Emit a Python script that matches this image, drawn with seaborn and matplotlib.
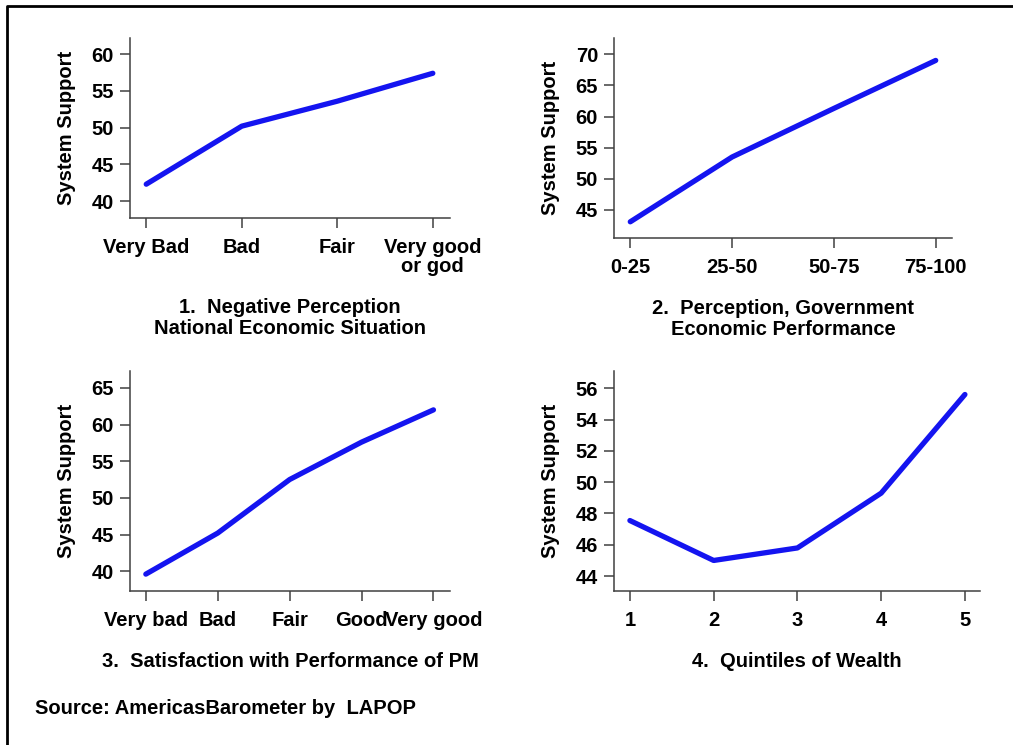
import numpy as np
import pandas as pd
import matplotlib
matplotlib.use("Agg")
import matplotlib.pyplot as plt
from matplotlib.lines import Line2D
import seaborn as sns

# data
econ_labels = ["Very Bad", "Bad", "Fair", "Very good\nor god"]
econ_support = [42.3, 50.2, 53.6, 57.4]

gov_labels = ["0-25", "25-50", "50-75", "75-100"]
gov_support = [43.1, 53.5, 61.3, 69.0]

pm_labels = ["Very bad", "Bad", "Fair", "Good", "Very good"]
pm_support = [39.6, 45.2, 52.5, 57.6, 62.0]

wealth_quintile = [1, 2, 3, 4, 5]
wealth_support = [47.55, 45.0, 45.8, 49.3, 55.6]

titles = ["1.  Negative Perception\nNational Economic Situation",
          "2.  Perception, Government\nEconomic Performance",
          "3.  Satisfaction with Performance of PM",
          "4.  Quintiles of Wealth"]

sns.set_style("ticks")
plt.rcParams['font.family'] = ['Liberation Sans', 'DejaVu Sans']
plt.rcParams['font.weight'] = 'bold'
plt.rcParams['axes.labelweight'] = 'bold'
plt.rcParams['text.color'] = 'black'
plt.rcParams['axes.labelcolor'] = 'black'

W, H = 1013, 745
FS = 14.5
fig = plt.figure(figsize=(W / 100, H / 100), dpi=100)


def box(l, t, r, b):
    return [l / W, 1 - b / H, (r - l) / W, (b - t) / H]


panels = [
    (box(130, 38, 450, 218), list(range(4)), econ_support, econ_labels,
     (-0.17, 3.18), (37.7, 62.2), np.arange(40, 61, 5)),
    (box(614, 38, 952, 238), list(range(4)), gov_support, gov_labels,
     (-0.16, 3.16), (40.5, 72.6), np.arange(45, 71, 5)),
    (box(130, 371, 450, 591), list(range(5)), pm_support, pm_labels,
     (-0.22, 4.23), (37.3, 67.3), np.arange(40, 66, 5)),
    (box(614, 371, 980, 591), wealth_quintile, wealth_support,
     [str(q) for q in wealth_quintile],
     (0.81, 5.18), (43.05, 57.1), np.arange(44, 57, 2)),
]

for (rect, xs, ys, labels, xlim, ylim, yticks), title in zip(panels, titles):
    ax = fig.add_axes(rect)
    df = pd.DataFrame({"x": xs, "y": ys})
    sns.lineplot(data=df, x="x", y="y", ax=ax, color="#1414f0", linewidth=3.8,
                 solid_capstyle="round", solid_joinstyle="round")
    ax.set_xlim(*xlim)
    ax.set_ylim(*ylim)
    ax.set_xticks(xs)
    ax.set_xticklabels(labels, linespacing=1.0)
    ax.set_yticks(yticks)
    sns.despine(ax=ax)
    for s in ["left", "bottom"]:
        ax.spines[s].set_color("#404040")
        ax.spines[s].set_linewidth(1.1)
    ax.tick_params(axis="both", length=7.5, width=1.1, color="#404040",
                   labelsize=FS, labelcolor="black")
    ax.tick_params(axis="x", pad=7)
    ax.tick_params(axis="y", pad=4)
    ax.set_ylabel("System Support", fontsize=FS, labelpad=11, color="black")
    ax.set_xlabel(title, fontsize=FS, labelpad=16, linespacing=1.1,
                  color="black")

fig.text(35 / W, 1 - 708 / H, "Source: AmericasBarometer by  LAPOP",
         fontsize=FS, fontweight="bold", va="center", ha="left", color="black")

# frame on the top and left edge
fig.add_artist(Line2D([7 / W, 7 / W, 1.02], [-0.02, 1 - 5.5 / H, 1 - 5.5 / H],
                      color="black", linewidth=2, transform=fig.transFigure))

fig.savefig("out.png", dpi=100)
